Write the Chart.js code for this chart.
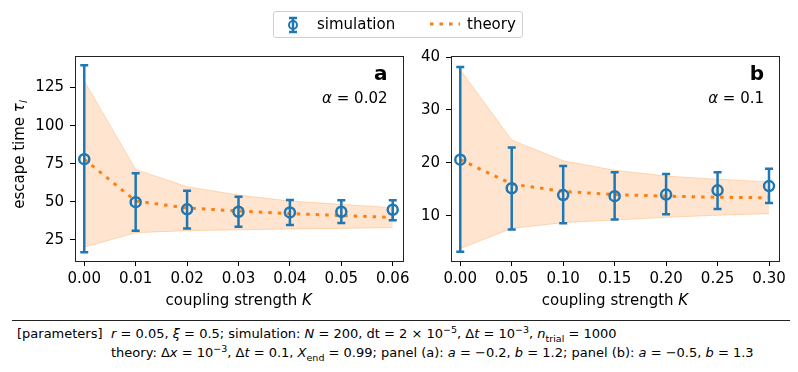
<!DOCTYPE html>
<html>
<head>
<meta charset="utf-8">
<script src="https://cdn.jsdelivr.net/npm/chart.js@4.4.1/dist/chart.umd.min.js"></script>
<style>
  body { margin: 0; background: #fff; width: 798px; height: 372px; position: relative; overflow: hidden; font-family: "DejaVu Sans", sans-serif; }
  canvas { position: absolute; top: 0; }
  #legend { position: absolute; left: 273px; top: 11px; width: 250px; height: 27px; border: 1px solid #d0d0d0; border-radius: 3px; box-sizing: border-box; font-size: 15px; color: #000; }
  #legend span { position: absolute; top: 3px; }
  #rule { position: absolute; left: 12px; width: 778px; top: 320px; border-top: 1px solid #222; }
  .note { position: absolute; font-size: 13px; color: #000; white-space: nowrap; }
  .note i { font-style: italic; }
  .note sub, .note sup { font-size: 9.5px; line-height: 0; }
</style>
</head>
<body>
<canvas id="chartA" width="410" height="310" style="left:0"></canvas>
<canvas id="chartB" width="388" height="310" style="left:410px"></canvas>

<div id="legend">
  <svg style="position:absolute;left:13px;top:4px" width="12" height="18">
    <path d="M2 2H10M6 2V16M2 16H10" stroke="#1f77b4" stroke-width="2.5" fill="none"/>
    <circle cx="6" cy="9" r="4" stroke="#1f77b4" stroke-width="2" fill="none"/>
  </svg>
  <span style="left:43px">simulation</span>
  <svg style="position:absolute;left:155px;top:9px" width="32" height="6">
    <path d="M1 3H31" stroke="#ff7f0e" stroke-width="3" stroke-dasharray="3.5 6" fill="none"/>
  </svg>
  <span style="left:193px">theory</span>
</div>

<div id="rule"></div>
<div class="note" style="left:17px; top:326px">[parameters]</div>
<div class="note" style="left:111px; top:326px"><i>r</i> = 0.05, <i>ξ</i> = 0.5; simulation: <i>N</i> = 200, dt = 2 × 10<sup>−5</sup>, Δ<i>t</i> = 10<sup>−3</sup>, <i>n</i><sub>trial</sub> = 1000</div>
<div class="note" style="left:111px; top:345px">theory: Δ<i>x</i> = 10<sup>−3</sup>, Δ<i>t</i> = 0.1, <i>X</i><sub>end</sub> = 0.99; panel (a): <i>a</i> = −0.2, <i>b</i> = 1.2; panel (b): <i>a</i> = −0.5, <i>b</i> = 1.3</div>

<script>
const BLUE = '#1f77b4';
const ORANGE = '#ff7f0e';
const FONT = '"DejaVu Sans"';

// panel (a), alpha = 0.02
const kA = [0, 0.01, 0.02, 0.03, 0.04, 0.05, 0.06];
const simMeanA = [78.0, 49.8, 45.1, 43.5, 43.1, 43.5, 44.8];
const simLowA = [16.9, 31.1, 32.6, 33.7, 34.8, 36.1, 38.0];
const simHighA = [139.6, 68.7, 57.3, 53.4, 51.2, 51.0, 51.0];
const theoryA = [78.0, 50.5, 46.0, 44.0, 42.3, 41.0, 39.8];
const bandLowA = [20.2, 29.8, 31.1, 31.7, 32.2, 32.6, 33.1];
const bandHighA = [129.3, 71.3, 59.9, 54.5, 50.5, 48.4, 46.2];
const yTicksA = [25, 50, 75, 100, 125];

// panel (b), alpha = 0.1
const kB = [0, 0.05, 0.10, 0.15, 0.20, 0.25, 0.30];
const simMeanB = [20.6, 15.2, 13.9, 13.7, 14.0, 14.8, 15.6];
const simLowB = [3.2, 7.4, 8.6, 9.3, 10.3, 11.3, 12.4];
const simHighB = [38.1, 22.9, 19.4, 18.2, 17.9, 18.2, 18.9];
const theoryB = [20.6, 16.0, 14.6, 14.0, 13.7, 13.5, 13.4];
const bandLowB = [3.8, 7.6, 8.7, 9.2, 9.7, 10.1, 10.4];
const bandHighB = [37.6, 24.3, 20.4, 18.6, 17.5, 16.9, 16.4];
const yTicksB = [10, 20, 30, 40];

const pts = (xs, ys) => xs.map((x, i) => ({x: x, y: ys[i]}));

// error bars, frame, panel letters, axis titles (with italic parts)
const panelDeco = {
  id: 'panelDeco',
  afterDatasetsDraw(chart, args, o) {
    const {ctx, scales: {x, y}} = chart;
    ctx.save();
    ctx.strokeStyle = BLUE;
    ctx.lineWidth = 2.5;
    o.k.forEach((k, i) => {
      const px = x.getPixelForValue(k);
      const top = y.getPixelForValue(o.high[i]);
      const bot = y.getPixelForValue(o.low[i]);
      ctx.beginPath();
      ctx.moveTo(px, top); ctx.lineTo(px, bot);
      ctx.moveTo(px - 4, top); ctx.lineTo(px + 4, top);
      ctx.moveTo(px - 4, bot); ctx.lineTo(px + 4, bot);
      ctx.stroke();
    });
    ctx.restore();
  },
  afterDraw(chart, args, o) {
    const {ctx, chartArea: a} = chart;
    ctx.save();
    ctx.strokeStyle = '#222';
    ctx.lineWidth = 1;
    ctx.strokeRect(Math.round(a.left) + 0.5, Math.round(a.top) + 0.5, Math.round(a.right - a.left), Math.round(a.bottom - a.top));

    ctx.fillStyle = '#000';
    ctx.textBaseline = 'alphabetic';
    // panel letter + alpha
    const r = a.right - 15;
    ctx.textAlign = 'right';
    ctx.font = 'bold 20px ' + FONT;
    ctx.fillText(o.letter, r, 80);
    ctx.font = '15px ' + FONT;
    const rest = ' = ' + o.alpha;
    ctx.fillText(rest, r, 103);
    const w = ctx.measureText(rest).width;
    ctx.font = 'italic 15px ' + FONT;
    ctx.fillText('α', r - w, 103);

    // x title: coupling strength K
    ctx.textAlign = 'left';
    ctx.font = '15px ' + FONT;
    const t1 = 'coupling strength ';
    const w1 = ctx.measureText(t1).width;
    ctx.font = 'italic 15px ' + FONT;
    const w2 = ctx.measureText('K').width;
    const cx = (a.left + a.right) / 2;
    let sx = cx - (w1 + w2) / 2;
    ctx.font = '15px ' + FONT;
    ctx.fillText(t1, sx, 305);
    ctx.font = 'italic 15px ' + FONT;
    ctx.fillText('K', sx + w1, 305);

    // y title: escape time τ_l
    if (o.yTitle) {
      ctx.translate(24, (a.top + a.bottom) / 2 - 4);
      ctx.rotate(-Math.PI / 2);
      ctx.font = '15px ' + FONT;
      const y1 = 'escape time ';
      const v1 = ctx.measureText(y1).width;
      ctx.font = 'italic 15px ' + FONT;
      const v2 = ctx.measureText('τ').width;
      ctx.font = 'italic 10.5px ' + FONT;
      const v3 = ctx.measureText('l').width;
      const s = -(v1 + v2 + v3) / 2;
      ctx.font = '15px ' + FONT;
      ctx.fillText(y1, s, 0);
      ctx.font = 'italic 15px ' + FONT;
      ctx.fillText('τ', s + v1, 0);
      ctx.font = 'italic 10.5px ' + FONT;
      ctx.fillText('l', s + v1 + v2, 3);
    }
    ctx.restore();
  }
};

function makeChart(id, k, mean, theory, bandLow, bandHigh, low, high, xr, yr, yTicks, yWidth, padRight, yTitle, letter, alpha) {
  const tickFont = {family: 'DejaVu Sans', size: 15};
  new Chart(document.getElementById(id), {
    type: 'scatter',
    data: {
      datasets: [
        {
          data: pts(k, mean),
          showLine: false,
          pointRadius: 5,
          pointHoverRadius: 5,
          pointBorderWidth: 2.5,
          pointBorderColor: BLUE,
          pointBackgroundColor: 'rgba(0,0,0,0)'
        },
        {
          data: pts(k, theory),
          showLine: true,
          borderColor: ORANGE,
          borderWidth: 3,
          borderDash: [3.5, 6],
          pointRadius: 0
        },
        {
          data: pts(k, bandHigh),
          showLine: true,
          borderColor: 'rgba(255,127,14,0.25)',
          borderWidth: 1,
          pointRadius: 0,
          fill: '+1',
          backgroundColor: 'rgba(255,127,14,0.2)'
        },
        {
          data: pts(k, bandLow),
          showLine: true,
          borderColor: 'rgba(255,127,14,0.25)',
          borderWidth: 1,
          pointRadius: 0
        }
      ]
    },
    options: {
      responsive: false,
      animation: false,
      devicePixelRatio: 1,
      layout: {padding: {left: 0, right: padRight, top: 56, bottom: 0}},
      plugins: {
        legend: {display: false},
        tooltip: {enabled: false},
        panelDeco: {k: k, low: low, high: high, letter: letter, alpha: alpha, yTitle: yTitle}
      },
      scales: {
        x: {
          type: 'linear',
          min: xr[0],
          max: xr[1],
          afterBuildTicks: s => { s.ticks = k.map(v => ({value: v})); },
          afterFit: s => { s.height = 49; s.paddingLeft = 0; s.paddingRight = 0; },
          ticks: {
            callback: v => v.toFixed(2),
            font: tickFont, color: '#000', padding: 4,
            maxRotation: 0, autoSkip: false
          },
          grid: {drawOnChartArea: false, drawTicks: true, tickLength: 5, color: '#000', tickColor: '#000'},
          border: {display: false}
        },
        y: {
          min: yr[0],
          max: yr[1],
          afterBuildTicks: s => { s.ticks = yTicks.map(v => ({value: v})); },
          afterFit: s => { s.width = yWidth; s.paddingTop = 0; s.paddingBottom = 0; },
          ticks: {font: tickFont, color: '#000', padding: 6},
          grid: {drawOnChartArea: false, drawTicks: true, tickLength: 5, color: '#000', tickColor: '#000'},
          border: {display: false}
        }
      }
    },
    plugins: [panelDeco]
  });
}

makeChart('chartA', kA, simMeanA, theoryA, bandLowA, bandHighA, simLowA, simHighA,
  [-0.0018, 0.0619], [11.2, 145.7], yTicksA, 75, 6, true, 'a', '0.02');
makeChart('chartB', kB, simMeanB, theoryB, bandLowB, bandHighB, simLowB, simHighB,
  [-0.009, 0.3097], [1.45, 40.19], yTicksB, 41, 19, false, 'b', '0.1');
</script>
</body>
</html>
